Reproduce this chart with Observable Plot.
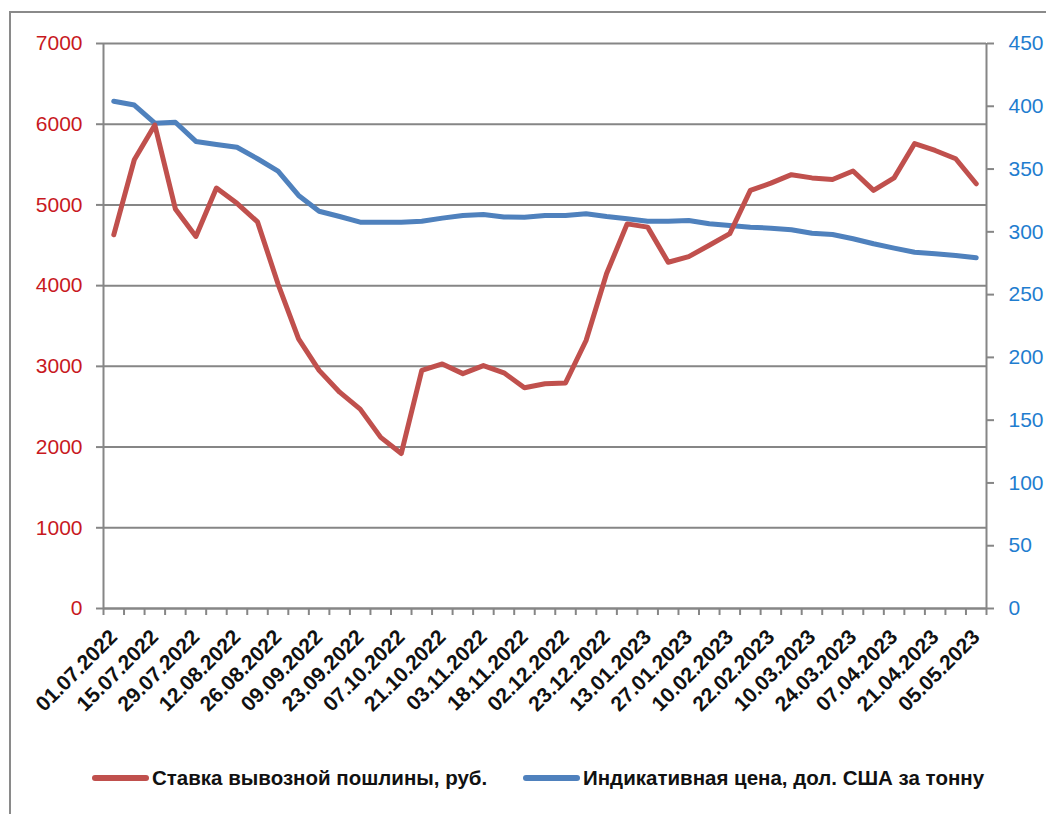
<!DOCTYPE html>
<html>
<head>
<meta charset="utf-8">
<script src="https://cdn.jsdelivr.net/npm/d3@7"></script>
<script src="https://cdn.jsdelivr.net/npm/@observablehq/plot@0.6"></script>
<style>
  html, body { margin: 0; padding: 0; background: #fff; width: 1046px; height: 814px; overflow: hidden; }
  #frame { position: absolute; left: 9px; top: 11px; width: 1100px; height: 900px; border: 2px solid #8a8a8a; box-sizing: border-box; }
  #chart { position: absolute; left: 0; top: 0; }
  #legend { position: absolute; left: 0; top: 764px; width: 1046px; height: 30px; font-family: "Liberation Sans", Arial, sans-serif; font-weight: bold; font-size: 20.5px; color: #111; }
  .item { position: absolute; top: 0; display: flex; align-items: center; height: 28px; white-space: nowrap; }
  .sw { display: inline-block; width: 57px; height: 6px; border-radius: 3px; margin-right: 3px; }
</style>
</head>
<body>
<div id="frame"></div>
<div id="chart"></div>
<div id="legend"></div>
<script>
// Weekly dates (every other one shown as a tick label)
const dates = [
  "01.07.2022","08.07.2022","15.07.2022","22.07.2022","29.07.2022","05.08.2022","12.08.2022","19.08.2022",
  "26.08.2022","02.09.2022","09.09.2022","16.09.2022","23.09.2022","30.09.2022","07.10.2022","14.10.2022",
  "21.10.2022","28.10.2022","03.11.2022","11.11.2022","18.11.2022","25.11.2022","02.12.2022","09.12.2022",
  "23.12.2022","30.12.2022","13.01.2023","20.01.2023","27.01.2023","03.02.2023","10.02.2023","17.02.2023",
  "22.02.2023","03.03.2023","10.03.2023","17.03.2023","24.03.2023","31.03.2023","07.04.2023","14.04.2023",
  "21.04.2023","28.04.2023","05.05.2023"
];
// Export duty rate, rub. (left axis)
const duty = [
  4630, 5560, 5990, 4950, 4610, 5210, 5020, 4790, 4020, 3340, 2950, 2680, 2470, 2120, 1920, 2950,
  3030, 2910, 3010, 2920, 2735, 2785, 2795, 3320, 4150, 4765, 4725, 4290, 4360, 4500, 4645, 5180,
  5270, 5375, 5335, 5315, 5420, 5180, 5335, 5760, 5675, 5572, 5262
];
// Indicative price, USD per tonne (right axis)
const price = [
  404, 401, 386.5, 387.3, 372, 369.6, 367.4, 358.2, 348.3, 329, 316.4, 312.2, 307.7, 307.7, 307.7, 308.5,
  310.9, 313, 313.8, 311.8, 311.7, 313, 313, 314.4, 312.2, 310.4, 308.5, 308.5, 309, 306.4, 305, 303.7,
  302.9, 301.6, 298.9, 297.9, 294.5, 290.5, 287, 283.8, 282.5, 281.1, 279.3
];
const leftTicks = [0, 1000, 2000, 3000, 4000, 5000, 6000, 7000];
const rightTicks = [0, 50, 100, 150, 200, 250, 300, 350, 400, 450];
const seriesNames = ["Ставка вывозной пошлины, руб.", "Индикативная цена, дол. США за тонну"];
const colors = ["#c0504d", "#4f81bd"];

const leftMax = 7000, rightMax = 450;
const k = leftMax / rightMax;
const n = dates.length;
const rows = dates.map((d, i) => ({i, date: d, duty: duty[i], price: price[i], priceScaled: price[i] * k}));
const labelIdx = d3.range(0, n, 2);
const grey = "#868686";

const chart = Plot.plot({
  width: 1046,
  height: 740,
  marginLeft: 103,
  marginRight: 60,
  marginTop: 43,
  marginBottom: 132,
  style: {fontFamily: "'Liberation Sans', Arial, sans-serif", background: "transparent"},
  x: {type: "linear", domain: [0, n], axis: null},
  y: {domain: [0, leftMax], axis: null},
  marks: [
    Plot.gridY(leftTicks, {stroke: grey, strokeOpacity: 1, strokeWidth: 2}),
    Plot.ruleX([0, n], {stroke: grey, strokeWidth: 2}),
    Plot.ruleY([0], {stroke: grey, strokeWidth: 2}),
    Plot.axisY(leftTicks, {anchor: "left", tickSize: 7, tickPadding: 14, stroke: grey, strokeWidth: 2, fill: "#c8191e", fontSize: 21, label: null, tickFormat: v => String(v)}),
    Plot.axisY(rightTicks.map(v => v * k), {anchor: "right", tickSize: 7, tickPadding: 15, stroke: grey, strokeWidth: 2, fill: "#1f7dcf", fontSize: 21, label: null, tickFormat: v => String(Math.round(v / k))}),
    Plot.axisX(d3.range(0, n + 1), {anchor: "bottom", tickSize: 7, stroke: grey, strokeWidth: 2, tickFormat: () => "", label: null}),
    Plot.axisX(labelIdx.map(i => i + 0.5), {anchor: "bottom", tickSize: 0, tickPadding: 25, tickRotate: -45, fill: "#111", fontSize: 21, fontWeight: "bold", label: null, tickFormat: v => dates[Math.round(v - 0.5)]}),
    Plot.line(rows, {x: d => d.i + 0.5, y: "priceScaled", stroke: colors[1], strokeWidth: 5, strokeLinejoin: "round", strokeLinecap: "round"}),
    Plot.line(rows, {x: d => d.i + 0.5, y: "duty", stroke: colors[0], strokeWidth: 5, strokeLinejoin: "round", strokeLinecap: "round"})
  ]
});
document.getElementById("chart").appendChild(chart);

const legend = document.getElementById("legend");
const lefts = [92, 523];
seriesNames.forEach((name, j) => {
  const it = document.createElement("div");
  it.className = "item";
  it.style.left = lefts[j] + "px";
  const sw = document.createElement("span");
  sw.className = "sw";
  sw.style.background = colors[j];
  it.appendChild(sw);
  const t = document.createElement("span");
  t.textContent = name;
  it.appendChild(t);
  legend.appendChild(it);
});
</script>
</body>
</html>
